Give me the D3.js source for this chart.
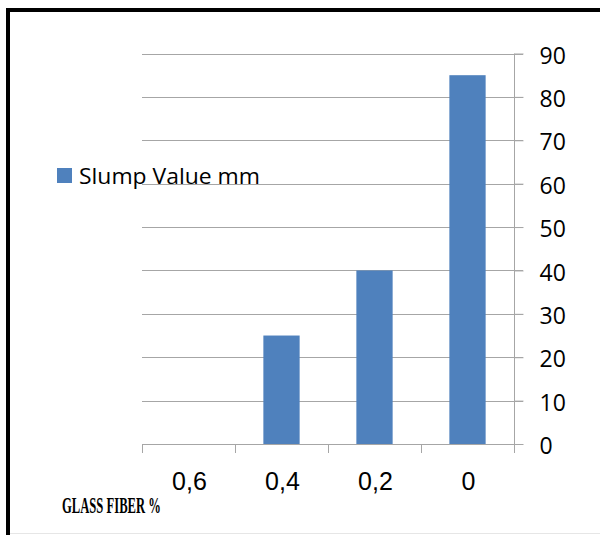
<!DOCTYPE html>
<html><head><meta charset="utf-8">
<script src="https://cdn.jsdelivr.net/npm/d3@7"></script>
<style>body{margin:0;background:#fff}svg{display:block}</style>
</head><body>
<script>
const categories = ["0,6", "0,4", "0,2", "0"];
const values = [0, 25, 40, 85];
const yTicks = [0, 10, 20, 30, 40, 50, 60, 70, 80, 90];
const seriesName = "Slump Value mm";
const xTitle = "GLASS FIBER %";

const W = 600, H = 535;
const svg = d3.select("body").append("svg").attr("width", W).attr("height", H);
svg.append("rect").attr("width", W).attr("height", H).attr("fill", "#fff");

// frame
svg.append("line").attr("x1", 8).attr("x2", 605).attr("y1", 533.5).attr("y2", 533.5).attr("stroke", "#e6e6e6");
svg.append("rect").attr("x", 8).attr("y", 10).attr("width", 620).attr("height", 560)
  .attr("fill", "none").attr("stroke", "#000").attr("stroke-width", 4);

const x0 = 142, x1 = 514, yTop = 53.5, yBot = 444;
const x = d3.scaleBand().domain(categories).range([x0, x1]).paddingInner(0.61).paddingOuter(0.305);
const xb = d3.scaleBand().domain(categories).range([x0, x1]);
const y = d3.scaleLinear().domain([0, 90]).range([yBot, yTop]);

const grid = "#a6a6a6";
// gridlines
svg.append("g").selectAll("line").data(yTicks.filter(d => d > 0)).join("line")
  .attr("x1", x0).attr("x2", x1 + 9).attr("y1", d => Math.round(y(d)) + 0.5).attr("y2", d => Math.round(y(d)) + 0.5)
  .attr("stroke", grid).attr("stroke-width", 1);

// bars
svg.append("g").selectAll("rect").data(values).join("rect")
  .attr("x", (d, i) => x(categories[i])).attr("width", x.bandwidth())
  .attr("y", d => y(d)).attr("height", d => yBot - y(d))
  .attr("fill", "#4f81bd");

// y axis right
const yAxis = d3.axisRight(y).tickValues(yTicks).tickSize(9).tickPadding(16);
const gy = svg.append("g").attr("transform", `translate(${x1 + 0.5},0)`).call(yAxis);
gy.select(".domain").attr("stroke", grid).attr("d", `M0,${yTop}V${yBot + 9}`);
gy.selectAll(".tick line").attr("stroke", grid);
gy.selectAll(".tick text").attr("font-family", "'Open Sans', sans-serif").attr("font-size", 23)
  .attr("fill", "#000").attr("dy", "0.42em");

// x axis
svg.append("line").attr("x1", x0).attr("x2", x1 + 9).attr("y1", yBot + 0.5).attr("y2", yBot + 0.5).attr("stroke", grid);
const edges = categories.map(c => xb(c)).concat([x1]);
svg.append("g").selectAll("line").data(edges).join("line")
  .attr("x1", d => Math.round(d) + 0.5).attr("x2", d => Math.round(d) + 0.5)
  .attr("y1", yBot).attr("y2", yBot + 9).attr("stroke", grid);
svg.append("g").selectAll("text").data(categories).join("text")
  .attr("x", d => xb(d) + xb.bandwidth() / 2 + 1).attr("y", 490)
  .attr("text-anchor", "middle").attr("font-family", "'Liberation Sans', Arial, sans-serif")
  .attr("font-size", 25).text(d => d);

// x title (condensed via scale transform)
const tg = svg.append("g");
const tt = tg.append("text").attr("x", 0).attr("y", 0).attr("font-family", "'Liberation Serif', serif")
  .attr("font-weight", "bold").attr("font-size", 24).text(xTitle);
const natW = tt.node().getComputedTextLength();
tg.attr("transform", `translate(62,512.5) scale(${99 / natW},1)`);

// legend
svg.append("rect").attr("x", 57).attr("y", 168).attr("width", 15).attr("height", 15).attr("fill", "#4f81bd");
svg.append("text").attr("x", 79).attr("y", 184).attr("font-family", "'Open Sans', sans-serif")
  .attr("font-size", 21.5).attr("textLength", 181).attr("lengthAdjust", "spacingAndGlyphs").text(seriesName);
</script>
</body></html>
